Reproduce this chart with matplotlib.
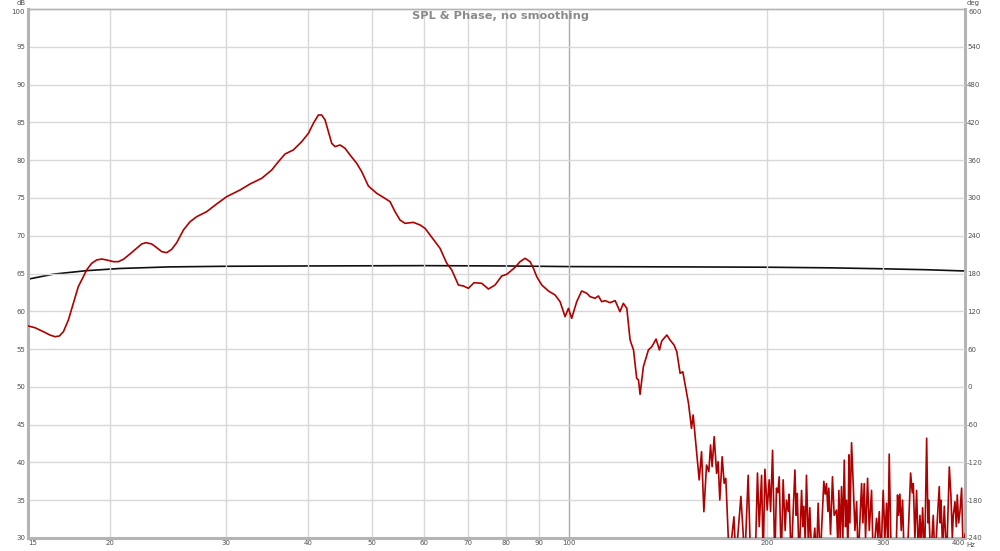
import numpy as np
import matplotlib.pyplot as plt
from matplotlib.ticker import FixedLocator, NullLocator

plt.rcParams["axes.unicode_minus"] = False

# SPL trace (Hz, dB)
spl_freq = [
    15.02, 15.37, 15.83, 16.20, 16.49, 16.74, 16.98, 17.28, 17.58, 17.89,
    18.21, 18.42, 18.75, 19.08, 19.42, 19.76, 20.23, 20.59, 20.95, 21.44,
    21.95, 22.34, 22.68, 23.14, 23.55, 23.97, 24.39, 24.82, 25.26, 25.86,
    26.47, 27.09, 28.06, 29.05, 30.09, 31.53, 32.66, 34.02, 35.24, 36.07,
    36.92, 38.01, 39.14, 40.07, 40.77, 41.50, 41.98, 42.48, 42.98, 43.48,
    43.99, 44.77, 45.56, 46.37, 47.46, 48.30, 49.44, 50.91, 52.11, 53.34,
    54.28, 55.24, 56.22, 57.89, 59.26, 60.30, 61.37, 62.46, 63.56, 65.07,
    66.22, 67.78, 68.97, 70.19, 71.61, 73.56, 75.29, 77.07, 78.89, 80.29,
    82.67, 84.13, 85.62, 87.13, 88.16, 89.19, 90.77, 92.91, 95.11, 96.79,
    98.50, 99.66, 100.8, 102.6, 104.4, 106.3, 107.5, 109.4, 110.7, 112.0,
    113.3, 115.3, 117.4, 119.4, 120.8, 122.3, 123.7, 125.2, 126.6, 127.4,
    128.1, 129.6, 131.9, 133.5, 135.5, 137.1, 138.2, 140.7, 142.3, 144.3,
    145.7, 147.4, 148.8, 151.8, 153.4, 154.3, 156.1, 157.6, 158.9, 160.2,
    161.7, 163.0, 164.0, 164.9, 166.1, 167.5, 168.4, 169.4, 170.8, 172.0,
    173.0, 175.1, 178.0, 179.2, 182.4, 184.9, 187.1, 188.7, 191.8, 193.3,
    194.5, 196.1, 197.2, 198.4, 200.0, 201.4, 202.4, 203.8, 205.4, 206.6,
    207.6, 208.6, 210.1, 211.5, 213.0, 214.0, 215.3, 216.0, 217.5, 220.4,
    221.4, 222.2, 223.7, 225.6, 226.6, 227.4, 228.5, 229.5, 231.1, 232.2,
    233.9, 236.3, 237.7, 239.1, 240.8, 243.9, 245.1, 246.2, 247.4, 248.2,
    249.7, 251.4, 252.9, 255.0, 256.2, 257.1, 258.3, 259.5, 260.7, 262.0,
    263.2, 264.1, 265.4, 266.3, 267.2, 268.8, 270.4, 272.0, 273.6, 275.1,
    278.4, 279.7, 281.0, 282.3, 284.3, 286.0, 288.3, 290.0, 293.4, 294.8,
    296.2, 297.9, 300.3, 302.1, 303.9, 305.3, 306.7, 308.5, 309.3, 314.0,
    315.8, 317.0, 318.4, 319.9, 321.4, 323.3, 326.7, 330.6, 332.5, 333.7,
    335.6, 337.6, 339.6, 341.6, 343.2, 344.8, 347.2, 349.7, 351.3, 352.1,
    354.6, 357.9, 360.0, 365.5, 366.8, 367.7, 369.8, 372.0, 375.0, 378.6,
    380.8, 382.6, 383.9, 386.2, 388.0, 389.3, 391.2, 393.0, 395.3, 397.6,
    400.0,
]
spl_db = [
    58.05, 57.83, 57.30, 56.86, 56.64, 56.73, 57.30, 58.85, 61.05, 63.26,
    64.58, 65.47, 66.35, 66.79, 66.92, 66.79, 66.57, 66.57, 66.88, 67.58,
    68.33, 68.91, 69.08, 68.91, 68.42, 67.89, 67.76, 68.20, 69.08, 70.76,
    71.86, 72.52, 73.19, 74.20, 75.17, 76.05, 76.85, 77.60, 78.70, 79.80,
    80.82, 81.35, 82.45, 83.55, 84.87, 85.98, 85.98, 85.32, 83.77, 82.23,
    81.79, 82.01, 81.57, 80.68, 79.58, 78.48, 76.58, 75.61, 75.08, 74.51,
    73.19, 72.08, 71.64, 71.77, 71.42, 70.98, 70.10, 69.21, 68.33, 66.35,
    65.47, 63.48, 63.35, 63.04, 63.79, 63.70, 62.95, 63.48, 64.67, 64.89,
    65.82, 66.57, 67.01, 66.57, 65.69, 64.58, 63.48, 62.69, 62.16, 61.27,
    59.29, 60.39, 59.07, 61.27, 62.69, 62.38, 61.94, 61.72, 62.03, 61.27,
    61.41, 61.14, 61.41, 59.95, 61.05, 60.39, 56.20, 54.88, 51.13, 50.91,
    49.01, 52.67, 54.88, 55.32, 56.33, 54.88, 56.07, 56.86, 56.20, 55.54,
    54.66, 51.79, 52.00, 47.82, 44.51, 46.28, 41.65, 37.68, 41.42, 33.48,
    39.66, 38.78, 42.31, 39.44, 43.41, 38.56, 40.10, 35.03, 40.76, 37.23,
    37.90, 27.0, 32.8, 27.0, 35.5, 27.0, 38.3, 27.0, 27.0, 38.6,
    31.5, 38.3, 27.0, 39.1, 33.7, 37.7, 33.5, 41.6, 27.0, 36.6,
    36.0, 38.1, 27.0, 37.7, 31.0, 35.0, 33.5, 35.8, 27.0, 39.0,
    33.0, 35.9, 27.0, 36.3, 31.5, 34.2, 29.5, 38.3, 29.0, 34.0,
    27.0, 31.3, 27.0, 34.6, 27.0, 37.5, 35.8, 37.2, 33.5, 36.6,
    30.5, 38.1, 33.0, 33.7, 29.0, 36.3, 30.0, 36.8, 30.0, 40.3,
    31.5, 35.0, 28.5, 41.0, 32.0, 42.6, 37.0, 31.0, 34.8, 27.0,
    37.2, 32.0, 37.2, 30.0, 37.9, 31.0, 36.3, 27.0, 32.6, 30.0,
    33.5, 27.0, 36.3, 30.0, 34.6, 28.0, 41.1, 29.5, 27.0, 27.0,
    35.7, 33.0, 35.8, 31.0, 35.0, 27.0, 27.0, 38.6, 36.0, 37.2,
    30.0, 36.3, 28.0, 33.0, 29.0, 34.0, 27.0, 43.2, 32.0, 35.0,
    27.0, 33.0, 27.0, 36.8, 32.0, 35.0, 28.5, 34.2, 27.0, 39.4,
    35.5, 30.0, 33.0, 34.8, 31.5, 35.7, 32.0, 33.5, 36.6, 27.0,
    30.5,
]

# phase trace (Hz, deg) on the right axis
phase_freq = [15, 16.4, 18.4, 20.7, 24.6, 30, 40, 60, 80, 100, 150, 200, 250, 300, 350, 400]
phase_deg = [171, 179, 184.5, 188, 190.5, 191.5, 192, 192.5, 192, 191, 190.5, 190, 189, 187.5, 186, 184]

x_ticks = [15, 20, 30, 40, 50, 60, 70, 80, 90, 100, 200, 300, 400]
db_ticks = list(range(30, 101, 5))
deg_ticks = list(range(-240, 601, 60))

grid_col = "#d8d8d8"
frame_col = "#b4b4b4"
label_col = "#505050"
fs = 5

fig = plt.figure(figsize=(10, 5.51), dpi=100)
ax = fig.add_axes([0.028, 0.0236, 0.937, 0.96])
ax2 = ax.twinx()

ax.set_xscale("log")
ax.set_xlim(15, 400)
ax.set_ylim(30, 100)
ax2.set_ylim(-240, 600)

ax.xaxis.set_major_locator(FixedLocator(x_ticks))
ax.xaxis.set_minor_locator(NullLocator())
ax.set_xticklabels([str(t) for t in x_ticks])
# the top value of each scale is written by hand below, under its unit caption
ax.set_yticks(db_ticks)
ax.set_yticklabels([str(t) for t in db_ticks[:-1]] + [""])
ax2.set_yticks(deg_ticks)
ax2.set_yticklabels([str(t) for t in deg_ticks[:-1]] + [""])

# first and last frequency labels sit inside the plot edges
xlabels = ax.get_xticklabels()
xlabels[0].set_horizontalalignment("left")
xlabels[-1].set_horizontalalignment("right")

for t in x_ticks[1:-1]:
    ax.axvline(t, color="#aaaaaa" if t == 100 else grid_col, lw=1.0, zorder=0)
for t in db_ticks[1:-1]:
    ax.axhline(t, color=grid_col, lw=1.0, zorder=0)

ax.plot(spl_freq, spl_db, color="#b00000", lw=1.2, zorder=3)
ax2.plot(phase_freq, phase_deg, color="#101010", lw=1.2, zorder=2)
ax.set_zorder(ax2.get_zorder() + 1)
ax.patch.set_visible(False)

for a in (ax, ax2):
    for s in a.spines.values():
        s.set_color(frame_col)
        s.set_linewidth(1.0)
ax.spines["left"].set_linewidth(2.2)
ax.spines["bottom"].set_linewidth(2.2)
ax2.spines["right"].set_linewidth(2.2)

ax.tick_params(axis="both", length=0, labelsize=fs, labelcolor=label_col, pad=1.8)
ax2.tick_params(axis="y", length=0, labelsize=fs, labelcolor=label_col, pad=1.5)
ax.tick_params(axis="x", pad=1.8)

ax.annotate(str(db_ticks[-1]), xy=(0, db_ticks[-1]), xycoords=("axes fraction", "data"),
            xytext=(-2.6, -2.3), textcoords="offset points", ha="right", va="center",
            fontsize=fs, color=label_col)
ax2.annotate(str(deg_ticks[-1]), xy=(1, deg_ticks[-1]), xycoords=("axes fraction", "data"),
             xytext=(2.3, -2.3), textcoords="offset points", ha="left", va="center",
             fontsize=fs, color=label_col)

# unit captions above the two value scales
fig.text(0.0255, 0.9995, "dB", fontsize=fs, color=label_col, ha="right", va="top")
fig.text(0.9665, 0.9995, "deg", fontsize=fs, color=label_col, ha="left", va="top")
ax.text(1.0015, -0.0075, "Hz", transform=ax.transAxes, fontsize=fs, color=label_col,
        ha="left", va="top")

fig.text(0.5, 0.971, "SPL & Phase, no smoothing", ha="center", va="center",
         fontsize=8.2, fontweight="bold", color="#8a8a8a")

fig.savefig("out.png", dpi=100)
